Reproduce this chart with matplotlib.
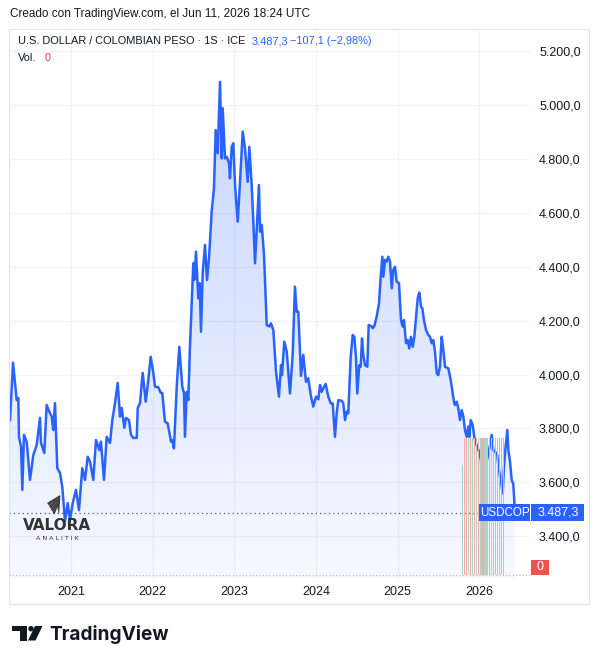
import matplotlib

matplotlib.use("Agg")
import matplotlib.pyplot as plt
import numpy as np
from matplotlib.patches import Circle, Polygon, Rectangle

# USD/COP weekly closes (decimal year, price)
dates = [
    2020.253, 2020.290, 2020.335, 2020.355, 2020.363, 2020.388, 2020.404, 2020.424,
    2020.457, 2020.498, 2020.538, 2020.580, 2020.620, 2020.633, 2020.673, 2020.702,
    2020.734, 2020.764, 2020.783, 2020.804, 2020.832, 2020.865, 2020.893, 2020.927,
    2020.960, 2020.988, 2021.021, 2021.061, 2021.098, 2021.138, 2021.171, 2021.205,
    2021.233, 2021.273, 2021.306, 2021.347, 2021.367, 2021.404, 2021.437, 2021.478,
    2021.506, 2021.539, 2021.572, 2021.600, 2021.621, 2021.653, 2021.674, 2021.710,
    2021.735, 2021.763, 2021.805, 2021.817, 2021.845, 2021.878, 2021.915, 2021.947,
    2021.976, 2022.008, 2022.029, 2022.069, 2022.099, 2022.118, 2022.151, 2022.184,
    2022.225, 2022.241, 2022.261, 2022.295, 2022.326, 2022.363, 2022.384, 2022.396,
    2022.417, 2022.437, 2022.457, 2022.498, 2022.510, 2022.531, 2022.559, 2022.576,
    2022.592, 2022.613, 2022.641, 2022.666, 2022.690, 2022.723, 2022.751, 2022.772,
    2022.797, 2022.825, 2022.846, 2022.858, 2022.886, 2022.907, 2022.935, 2022.947,
    2022.968, 2022.988, 2023.009, 2023.042, 2023.070, 2023.103, 2023.131, 2023.164,
    2023.184, 2023.213, 2023.233, 2023.254, 2023.302, 2023.315, 2023.336, 2023.364,
    2023.397, 2023.429, 2023.449, 2023.478, 2023.511, 2023.547, 2023.572, 2023.584,
    2023.612, 2023.642, 2023.682, 2023.715, 2023.743, 2023.764, 2023.784, 2023.817,
    2023.845, 2023.878, 2023.906, 2023.936, 2023.967, 2024.001, 2024.029, 2024.050,
    2024.070, 2024.090, 2024.119, 2024.151, 2024.181, 2024.205, 2024.233, 2024.254,
    2024.274, 2024.315, 2024.335, 2024.356, 2024.377, 2024.396, 2024.426, 2024.450,
    2024.470, 2024.490, 2024.506, 2024.531, 2024.548, 2024.564, 2024.580, 2024.601,
    2024.629, 2024.646, 2024.683, 2024.695, 2024.715, 2024.744, 2024.772, 2024.793,
    2024.813, 2024.825, 2024.846, 2024.866, 2024.886, 2024.907, 2024.928, 2024.947,
    2024.968, 2024.989, 2025.017, 2025.042, 2025.062, 2025.078, 2025.103, 2025.124,
    2025.143, 2025.164, 2025.185, 2025.205, 2025.225, 2025.246, 2025.266, 2025.287,
    2025.303, 2025.323, 2025.348, 2025.376, 2025.397, 2025.418, 2025.437, 2025.458,
    2025.479, 2025.498, 2025.519, 2025.540, 2025.560, 2025.581, 2025.621, 2025.650,
    2025.675, 2025.694, 2025.703, 2025.724, 2025.743, 2025.764, 2025.785, 2025.805,
    2025.825, 2025.846, 2025.866, 2025.878, 2025.895, 2025.920, 2025.939, 2025.960,
    2025.976, 2025.997, 2026.018, 2026.034, 2026.050, 2026.070, 2026.091, 2026.111,
    2026.132, 2026.153, 2026.172, 2026.193, 2026.221, 2026.233, 2026.254, 2026.275,
    2026.287, 2026.303, 2026.319, 2026.344, 2026.356, 2026.377, 2026.397, 2026.417,
    2026.438,
]
prices = [
    3831, 4044, 3905, 3913, 3769, 3732, 3572, 3776, 3751, 3609, 3701, 3739,
    3839, 3746, 3709, 3887, 3862, 3844, 3794, 3894, 3653, 3635, 3584, 3457,
    3523, 3460, 3523, 3572, 3497, 3653, 3609, 3695, 3677, 3609, 3757, 3720,
    3751, 3609, 3769, 3746, 3831, 3894, 3969, 3844, 3876, 3802, 3839, 3831,
    3776, 3765, 3765, 3876, 3894, 4006, 3899, 3980, 4066, 4006, 3955, 3953,
    3932, 3932, 3825, 3819, 3751, 3757, 3726, 3955, 4103, 3955, 3930, 3769,
    3936, 3905, 4103, 4413, 4351, 4456, 4283, 4339, 4159, 4376, 4481, 4351,
    4431, 4604, 4691, 4907, 4821, 5086, 4802, 4988, 4802, 4808, 4784, 4728,
    4845, 4858, 4703, 4567, 4715, 4901, 4839, 4715, 4845, 4703, 4567, 4413,
    4703, 4530, 4555, 4444, 4184, 4178, 4190, 4165, 4011, 3918, 4035, 3998,
    4122, 4085, 3930, 4073, 4326, 4233, 4233, 3995, 4073, 3973, 3986, 3924,
    3881, 3918, 3908, 3961, 3936, 3949, 3965, 3918, 3893, 3893, 3769, 3856,
    3905, 3903, 3893, 3831, 3862, 3856, 4066, 4147, 4140, 4066, 3930, 4035,
    4029, 4134, 4073, 4035, 4029, 4184, 4178, 4172, 4180, 4215, 4264, 4363,
    4437, 4363, 4425, 4419, 4437, 4419, 4320, 4388, 4400, 4344, 4339, 4202,
    4178, 4202, 4116, 4128, 4097, 4140, 4103, 4140, 4209, 4283, 4304, 4252,
    4246, 4202, 4165, 4147, 4140, 4116, 4128, 4085, 4005, 3998, 4029, 4140,
    4091, 4029, 4023, 3980, 3930, 3893, 3887, 3899, 3875, 3831, 3868, 3844,
    3794, 3769, 3807, 3769, 3831, 3813, 3769, 3745, 3732, 3714, 3689, 3646,
    3671, 3664, 3677, 3708, 3739, 3776, 3720, 3714, 3701, 3664, 3621, 3584,
    3559, 3658, 3720, 3794, 3720, 3677, 3609, 3594, 3487.3,
]

# volume histogram (only the last months carry bars), up = green / down = red
vol_dates = [
    2025.792, 2025.817, 2025.843, 2025.868, 2025.893, 2025.919, 2025.944,
    2025.970, 2025.995, 2026.020, 2026.046, 2026.071, 2026.096, 2026.122,
    2026.147, 2026.173, 2026.198, 2026.223, 2026.249, 2026.274, 2026.299,
]
vol_values = [0.8] + [1.0] * 20
vol_dir = list("GRRGRGRGRGRGGRGRRGRRR")

years = [2021, 2022, 2023, 2024, 2025, 2026]
price_ticks = [3400, 3600, 3800, 4000, 4200, 4400, 4600, 4800, 5000, 5200]

BLUE = "#2962ff"
TEXT = "#131722"
GRID = "#f0f3fa"
W, H = 598, 664
XMIN, XMAX = 2020.2407, 2026.6216
YMIN, YMAX = 3245.2, 5283.8


def fmt_es(v, dec=1):
    s = f"{v:,.{dec}f}"
    return s.replace(",", "X").replace(".", ",").replace("X", ".")


plt.rcParams["font.family"] = ["Liberation Sans", "DejaVu Sans"]

fig = plt.figure(figsize=(W / 100, H / 100), dpi=100)
fig.patch.set_facecolor("white")

# main pane in pixel terms: x 9..530, y 28.5..578
ax = fig.add_axes([9 / W, 1 - 578 / H, (530 - 9) / W, (578 - 28.5) / H])
vax = ax.twinx()  # volume overlay, created first so it doesn't move the price ticks

ax.set_xlim(XMIN, XMAX)
ax.set_ylim(YMIN, YMAX)
for s in ax.spines.values():
    s.set_visible(False)

ax.set_xticks(years)
ax.set_xticklabels([str(y) for y in years])
ax.yaxis.tick_right()
ax.set_yticks(price_ticks)
ax.set_yticklabels([fmt_es(v) for v in price_ticks])
ax.tick_params(axis="both", length=0, colors=TEXT, labelsize=9)
ax.tick_params(axis="y", pad=6.5)
ax.tick_params(axis="x", pad=5.5)
ax.grid(True, color=GRID, lw=0.9, zorder=0)
ax.set_axisbelow(True)

# area under the line with vertical gradient
fill = ax.fill_between(dates, prices, YMIN, color="none", lw=0)
grad = np.linspace(0.27, 0.04, 256).reshape(-1, 1)
rgba = np.zeros((256, 1, 4))
rgba[..., 0], rgba[..., 1], rgba[..., 2] = 41 / 255, 98 / 255, 1.0
rgba[..., 3] = grad
img = ax.imshow(rgba, aspect="auto", origin="upper", zorder=1,
                extent=[XMIN, XMAX, YMIN, 5150])
img.set_clip_path(fill.get_paths()[0], transform=ax.transData)
ax.set_xlim(XMIN, XMAX)
ax.set_ylim(YMIN, YMAX)

ax.plot(dates, prices, color=BLUE, lw=1.8, zorder=4, solid_joinstyle="round")
ax.axhline(prices[-1], color="#4a5875", lw=0.9, ls=(0, (1, 2.5)), zorder=3)

vax.set_ylim(-0.0219, 3.989)
vax.axis("off")
vcolors = ["#a8d5c8" if d == "G" else "#f4aaa6" for d in vol_dir]
vax.bar(vol_dates, vol_values, width=0.016, color=vcolors, zorder=2)
vax.axhline(0, color="#e9a3a3", lw=0.8, ls=(0, (1, 2)))

# overlay in pixel coordinates for labels, frame and logos
ov = fig.add_axes([0, 0, 1, 1], zorder=10)
ov.set_xlim(0, W)
ov.set_ylim(H, 0)
ov.axis("off")
ov.patch.set_alpha(0)

ov.add_patch(Rectangle((9, 28.5), 580, 575, fill=False, ec="#e0e3eb", lw=0.8))

y_last = H - ax.transData.transform((2021, prices[-1]))[1]
y_vol0 = H - vax.transData.transform((2021, 0))[1]

ov.add_patch(Rectangle((479, y_last - 8.5), 51, 17, color=BLUE, lw=0))
ov.text(504.5, y_last, "USDCOP", color="white", fontsize=8.4, ha="center", va="center")
ov.add_patch(Rectangle((531, y_last - 8.5), 53, 17, color=BLUE, lw=0))
ov.text(538, y_last, fmt_es(prices[-1]), color="white", fontsize=9, ha="left", va="center")

ov.add_patch(Rectangle((531, y_vol0 - 15), 18, 15, color="#f0534f", lw=0))
ov.text(540, y_vol0 - 7.5, "0", color="white", fontsize=9, ha="center", va="center")

# header
ov.text(10, 14, "Creado con TradingView.com, el Jun 11, 2026 18:24 UTC",
        color=TEXT, fontsize=8.5, ha="left", va="center")
ov.text(18, 41, "U.S. DOLLAR / COLOMBIAN PESO · 1S · ICE", color=TEXT,
        fontsize=7.9, ha="left", va="center")
ov.text(252, 41, fmt_es(prices[-1]), color=BLUE, fontsize=7.9, ha="left", va="center")
ov.text(290, 41, "−107,1 (−2,98%)", color=BLUE, fontsize=7.9, ha="left", va="center")
ov.text(18, 58, "Vol.", color=TEXT, fontsize=7.9, ha="left", va="center")
ov.text(45, 58, "0", color="#f23645", fontsize=7.9, ha="left", va="center")

# Valora Analitik watermark
for k in range(4):
    ov.add_patch(Polygon([(47 + k * 1.8, 503 + k * 3), (60, 495 + k * 1.5),
                          (60, 497 + k * 1.5), (49 + k * 1.8, 505.5 + k * 3)],
                         closed=True, color="#3d3d3d", lw=0))
ov.add_patch(Polygon([(57, 505), (60.5, 495), (59, 515)], closed=True,
                     color="#3d3d3d", lw=0))
ov.text(57, 526, "VALORA", color="#333333", fontsize=11, fontweight="bold",
        ha="center", va="center", family="DejaVu Sans")
ov.text(57, 538, "A N A L I T I K", color="#333333", fontsize=4.6,
        ha="center", va="center", family="DejaVu Sans")

# TradingView logo
ov.add_patch(Rectangle((12, 626), 15, 5, color=TEXT, lw=0))
ov.add_patch(Rectangle((19.5, 626), 7.5, 14.5, color=TEXT, lw=0))
ov.add_patch(Circle((31, 628.7), 2.7, color=TEXT, lw=0))
ov.add_patch(Polygon([(35, 626), (42.5, 626), (35.5, 640.5), (28, 640.5)],
                     closed=True, color=TEXT, lw=0))
ov.text(49, 634, "TradingView", color=TEXT, fontsize=13.7, fontweight="bold",
        ha="left", va="center", family=["Inter", "DejaVu Sans"])

fig.savefig("out.png", dpi=100, facecolor="white")
